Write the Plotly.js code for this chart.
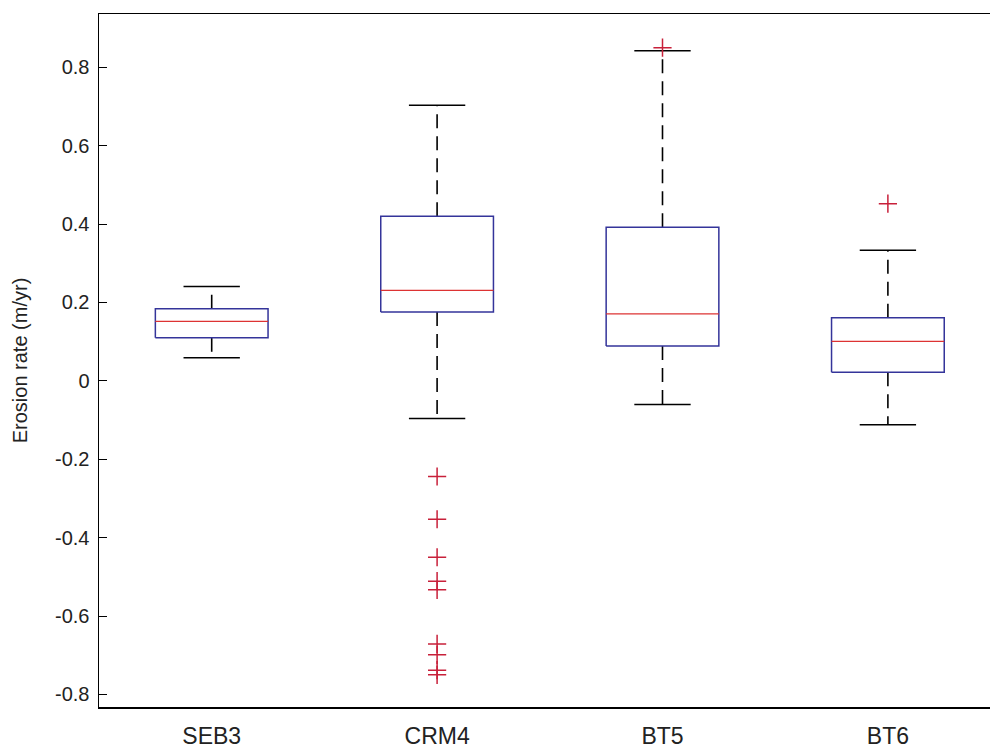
<!DOCTYPE html>
<html>
<head>
<meta charset="utf-8">
<script src="https://cdn.plot.ly/plotly-3.0.1.min.js"></script>
<style>html,body{margin:0;padding:0;background:#fff;}#chart{width:990px;height:753px;}</style>
</head>
<body>
<div id="chart"></div>
<script>
// Data
var categories = ['SEB3', 'CRM4', 'BT5', 'BT6'];
var lowerWhisker = [0.059, -0.096, -0.060, -0.112];
var q1Values     = [0.110, 0.176, 0.089, 0.022];
var medianValues = [0.152, 0.231, 0.171, 0.101];
var q3Values     = [0.184, 0.420, 0.392, 0.161];
var upperWhisker = [0.241, 0.703, 0.842, 0.333];
var outliers = [
  [],
  [-0.244, -0.353, -0.450, -0.511, -0.533, -0.671, -0.699, -0.738, -0.750],
  [0.850],
  [0.452]
];
var yTickVals = [-0.8, -0.6, -0.4, -0.2, 0, 0.2, 0.4, 0.6, 0.8];
var yTickText = ['-0.8', '-0.6', '-0.4', '-0.2', '0', '0.2', '0.4', '0.6', '0.8'];

var boxHalf = 0.25, capHalf = 0.125;
var boxX = [], boxY = [], medX = [], medY = [], whX = [], whY = [], capX = [], capY = [], outX = [], outY = [];
categories.forEach(function (c, i) {
  var x = i + 1;
  boxX.push(x - boxHalf, x + boxHalf, x + boxHalf, x - boxHalf, x - boxHalf, null);
  boxY.push(q1Values[i], q1Values[i], q3Values[i], q3Values[i], q1Values[i], null);
  medX.push(x - boxHalf, x + boxHalf, null);
  medY.push(medianValues[i], medianValues[i], null);
  whX.push(x, x, null, x, x, null);
  whY.push(q3Values[i], upperWhisker[i], null, q1Values[i], lowerWhisker[i], null);
  capX.push(x - capHalf, x + capHalf, null, x - capHalf, x + capHalf, null);
  capY.push(upperWhisker[i], upperWhisker[i], null, lowerWhisker[i], lowerWhisker[i], null);
  outliers[i].forEach(function (v) { outX.push(x); outY.push(v); });
});

var traces = [
  {x: whX, y: whY, mode: 'lines', line: {color: '#000000', width: 1.6, dash: '14px,8px'}, hoverinfo: 'skip'},
  {x: capX, y: capY, mode: 'lines', line: {color: '#000000', width: 1.5}, hoverinfo: 'skip'},
  {x: boxX, y: boxY, mode: 'lines', line: {color: '#34349a', width: 1.5}, hoverinfo: 'skip'},
  {x: medX, y: medY, mode: 'lines', line: {color: '#dd3333', width: 1.2}, hoverinfo: 'skip'},
  {x: outX, y: outY, mode: 'markers', marker: {symbol: 'cross-thin', size: 13, line: {color: '#c8203a', width: 1.5}}, hoverinfo: 'skip'}
];

var layout = {
  width: 990, height: 753,
  margin: {l: 99, r: 0, t: 14, b: 46},
  paper_bgcolor: '#ffffff', plot_bgcolor: '#ffffff',
  showlegend: false,
  font: {family: 'Liberation Sans, Arial, sans-serif', color: '#222222'},
  xaxis: {
    range: [0.5, 4.453], tickvals: [1, 2, 3, 4], ticktext: categories,
    ticks: '', showgrid: false, zeroline: false,
    showline: true, linecolor: '#000000', linewidth: 1.5, mirror: true,
    tickfont: {size: 23, color: '#222222'}, ticklabelstandoff: 8
  },
  yaxis: {
    range: [-0.832, 0.936], tickvals: yTickVals, ticktext: yTickText,
    ticks: 'inside', ticklen: 8, tickcolor: '#000000', tickwidth: 1,
    showgrid: false, zeroline: false,
    showline: true, linecolor: '#000000', linewidth: 1.5,
    tickfont: {size: 20, color: '#222222'}, ticklabelstandoff: 4,
    title: {text: 'Erosion rate (m/yr)', font: {size: 20, color: '#222222'}, standoff: 22}
  }
};

Plotly.newPlot('chart', traces, layout, {displayModeBar: false, staticPlot: true});
</script>
</body>
</html>
